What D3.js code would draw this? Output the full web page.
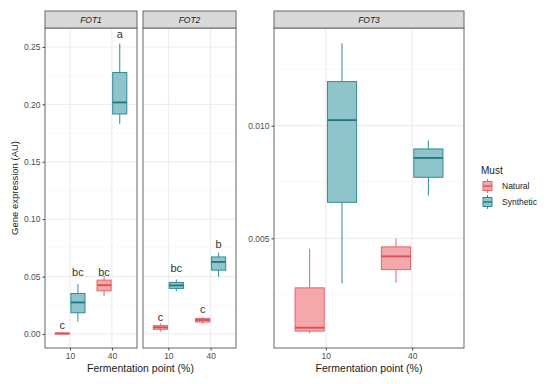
<!DOCTYPE html>
<html lang="en">
<head>
    <meta charset="UTF-8">
    <title>Gene expression by fermentation point</title>
    <script src="https://d3js.org/d3.v7.min.js"></script>
    <style>
        body {
            margin: 0;
            padding: 0;
            background-color: #fff;
            font-family: "Liberation Sans", Arial, sans-serif;
        }
        .grid line { stroke: #ebebeb; stroke-width: 1; }
        .grid .minor { stroke: #f3f3f3; stroke-width: 0.6; }
        .axis path { display: none; }
        .axis line { stroke: #444; }
        .axis text { fill: #4d4d4d; font-size: 8.5px; }
        .strip text { font-size: 8.5px; font-style: italic; fill: #1a1a1a; }
        .letter { font-size: 11px; fill: #333; }
    </style>
</head>
<body>
    <div id="chart"></div>

    <script>
        // --- data ---
        const fots = ["FOT1", "FOT2", "FOT3"];
        const points = ["10", "40"];
        const musts = ["Natural", "Synthetic"];

        // box stats: [point, must, lower whisker, q1, median, q3, upper whisker]
        const fot1Boxes = [
            ["10", "Natural",   0.0002, 0.0003, 0.0005, 0.0008, 0.0010],
            ["10", "Synthetic", 0.0107, 0.0185, 0.0275, 0.0353, 0.0434],
            ["40", "Natural",   0.0330, 0.0376, 0.0425, 0.0469, 0.0503],
            ["40", "Synthetic", 0.1829, 0.1916, 0.2017, 0.2277, 0.2529]
        ];
        const fot2Boxes = [
            ["10", "Natural",   0.0020, 0.0041, 0.0058, 0.0072, 0.0093],
            ["10", "Synthetic", 0.0373, 0.0397, 0.0423, 0.0449, 0.0475],
            ["40", "Natural",   0.0087, 0.0104, 0.0122, 0.0136, 0.0145],
            ["40", "Synthetic", 0.0497, 0.0556, 0.0628, 0.0671, 0.0709]
        ];
        const fot3Boxes = [
            ["10", "Natural",   0.00078, 0.00088, 0.00103, 0.00280, 0.00454],
            ["10", "Synthetic", 0.00300, 0.00660, 0.01025, 0.01196, 0.01366],
            ["40", "Natural",   0.00302, 0.00361, 0.00420, 0.00462, 0.00499],
            ["40", "Synthetic", 0.00690, 0.00771, 0.00857, 0.00897, 0.00934]
        ];

        // significance letters: [point, must, letter, y]
        const fot1Letters = [
            ["10", "Natural", "c", 0.0078],
            ["10", "Synthetic", "bc", 0.0538],
            ["40", "Natural", "bc", 0.0538],
            ["40", "Synthetic", "a", 0.2613]
        ];
        const fot2Letters = [
            ["10", "Natural", "c", 0.0150],
            ["10", "Synthetic", "bc", 0.0573],
            ["40", "Natural", "c", 0.0217],
            ["40", "Synthetic", "b", 0.0787]
        ];

        const ticks12 = [0.00, 0.05, 0.10, 0.15, 0.20, 0.25];
        const minor12 = [0.025, 0.075, 0.125, 0.175, 0.225];
        const ticks3 = [0.005, 0.010];
        const minor3 = [0.0025, 0.0075, 0.0125];

        const colors = {
            Natural:   { fill: "#f5a8ac", stroke: "#e5636b", med: "#d94f58" },
            Synthetic: { fill: "#8fc4ca", stroke: "#2f8c97", med: "#1f7782" }
        };

        // --- layout ---
        const W = 550, H = 384;
        const plotTop = 28, plotBottom = 348, stripH = 17;
        const panels = [
            { name: fots[0], x0: 45,  x1: 137, boxes: fot1Boxes, letters: fot1Letters, domain: [-0.0122, 0.2665], ticks: ticks12, minor: minor12, fmt: d3.format(".2f"), showY: true },
            { name: fots[1], x0: 143, x1: 236, boxes: fot2Boxes, letters: fot2Letters, domain: [-0.0122, 0.2665], ticks: ticks12, minor: minor12, fmt: d3.format(".2f"), showY: false },
            { name: fots[2], x0: 274, x1: 464, boxes: fot3Boxes, letters: [], domain: [0.00013, 0.01434], ticks: ticks3, minor: minor3, fmt: d3.format(".3f"), showY: true }
        ];

        const svg = d3.select("#chart").append("svg")
            .attr("width", W)
            .attr("height", H);

        panels.forEach(p => {
            const x = d3.scalePoint().domain(points).range([p.x0, p.x1]).padding(0.6);
            const y = d3.scaleLinear().domain(p.domain).range([plotBottom, plotTop]);
            const step = x.step();
            const dodge = d3.scaleBand().domain(musts).range([-0.375 * step, 0.375 * step]).paddingInner(0.1).paddingOuter(0.05);
            const bw = dodge.bandwidth();

            const g = svg.append("g");

            // grid
            const grid = g.append("g").attr("class", "grid");
            grid.selectAll(".minor").data(p.minor).join("line")
                .attr("class", "minor")
                .attr("x1", p.x0).attr("x2", p.x1)
                .attr("y1", d => y(d)).attr("y2", d => y(d));
            grid.selectAll(".major").data(p.ticks).join("line")
                .attr("class", "major")
                .attr("x1", p.x0).attr("x2", p.x1)
                .attr("y1", d => y(d)).attr("y2", d => y(d));
            grid.selectAll(".vx").data(points).join("line")
                .attr("class", "vx")
                .attr("x1", d => x(d)).attr("x2", d => x(d))
                .attr("y1", plotTop).attr("y2", plotBottom);

            // boxes
            const bx = d => x(d[0]) + dodge(d[1]) + bw / 2;
            const boxes = g.selectAll(".box").data(p.boxes).join("g").attr("class", "box");
            boxes.append("line")
                .attr("x1", bx).attr("x2", bx)
                .attr("y1", d => y(d[2])).attr("y2", d => y(d[6]))
                .attr("stroke", d => colors[d[1]].stroke)
                .attr("stroke-width", 1);
            boxes.append("rect")
                .attr("x", d => bx(d) - bw / 2)
                .attr("width", bw)
                .attr("y", d => y(d[5]))
                .attr("height", d => Math.max(1, y(d[3]) - y(d[5])))
                .attr("fill", d => colors[d[1]].fill)
                .attr("stroke", d => colors[d[1]].stroke)
                .attr("stroke-width", 1);
            boxes.append("line")
                .attr("x1", d => bx(d) - bw / 2).attr("x2", d => bx(d) + bw / 2)
                .attr("y1", d => y(d[4])).attr("y2", d => y(d[4]))
                .attr("stroke", d => colors[d[1]].med)
                .attr("stroke-width", 1.8);

            // letters
            g.selectAll(".letter").data(p.letters).join("text")
                .attr("class", "letter")
                .attr("x", d => bx(d))
                .attr("y", d => y(d[3]))
                .attr("text-anchor", "middle")
                .attr("dominant-baseline", "central")
                .text(d => d[2]);

            // panel border
            g.append("rect")
                .attr("x", p.x0).attr("y", plotTop)
                .attr("width", p.x1 - p.x0).attr("height", plotBottom - plotTop)
                .attr("fill", "none").attr("stroke", "#666").attr("stroke-width", 1);

            // strip
            const strip = g.append("g").attr("class", "strip");
            strip.append("rect")
                .attr("x", p.x0).attr("y", plotTop - stripH)
                .attr("width", p.x1 - p.x0).attr("height", stripH)
                .attr("fill", "#d9d9d9").attr("stroke", "#666").attr("stroke-width", 1);
            strip.append("text")
                .attr("x", (p.x0 + p.x1) / 2)
                .attr("y", plotTop - stripH / 2)
                .attr("text-anchor", "middle")
                .attr("dominant-baseline", "central")
                .text(p.name);

            // axes
            g.append("g")
                .attr("class", "axis")
                .attr("transform", `translate(0,${plotBottom})`)
                .call(d3.axisBottom(x).tickSize(2.5).tickPadding(2));
            if (p.showY) {
                g.append("g")
                    .attr("class", "axis")
                    .attr("transform", `translate(${p.x0},0)`)
                    .call(d3.axisLeft(y).tickValues(p.ticks).tickFormat(p.fmt).tickSize(2.5).tickPadding(2));
            }
        });

        // axis titles
        svg.append("text")
            .attr("transform", `translate(14,${(plotTop + plotBottom) / 2}) rotate(-90)`)
            .attr("text-anchor", "middle")
            .attr("dominant-baseline", "central")
            .style("font-size", "9.5px")
            .style("fill", "#1a1a1a")
            .text("Gene expression (AU)");

        [[panels[0].x0, panels[1].x1], [panels[2].x0, panels[2].x1]].forEach(([a, b]) => {
            svg.append("text")
                .attr("x", (a + b) / 2)
                .attr("y", 368)
                .attr("text-anchor", "middle")
                .attr("dominant-baseline", "central")
                .style("font-size", "10.5px")
                .style("fill", "#1a1a1a")
                .text("Fermentation point (%)");
        });

        // legend
        const legend = svg.append("g").attr("transform", "translate(481,170)");
        legend.append("text")
            .attr("x", 0).attr("y", 0)
            .attr("dominant-baseline", "central")
            .style("font-size", "10px")
            .style("fill", "#1a1a1a")
            .text("Must");
        const key = legend.selectAll(".key").data(musts).join("g")
            .attr("class", "key")
            .attr("transform", (d, i) => `translate(2,${16 + i * 16})`);
        key.append("line")
            .attr("x1", 4.5).attr("x2", 4.5).attr("y1", -7).attr("y2", 7)
            .attr("stroke", d => colors[d].stroke);
        key.append("rect")
            .attr("x", 0).attr("y", -4.5).attr("width", 9).attr("height", 9)
            .attr("fill", d => colors[d].fill)
            .attr("stroke", d => colors[d].stroke);
        key.append("line")
            .attr("x1", 0).attr("x2", 9).attr("y1", 0).attr("y2", 0)
            .attr("stroke", d => colors[d].med).attr("stroke-width", 1.4);
        key.append("text")
            .attr("x", 19).attr("y", 0)
            .attr("dominant-baseline", "central")
            .style("font-size", "8.5px")
            .style("fill", "#1a1a1a")
            .text(d => d);
    </script>
</body>
</html>
